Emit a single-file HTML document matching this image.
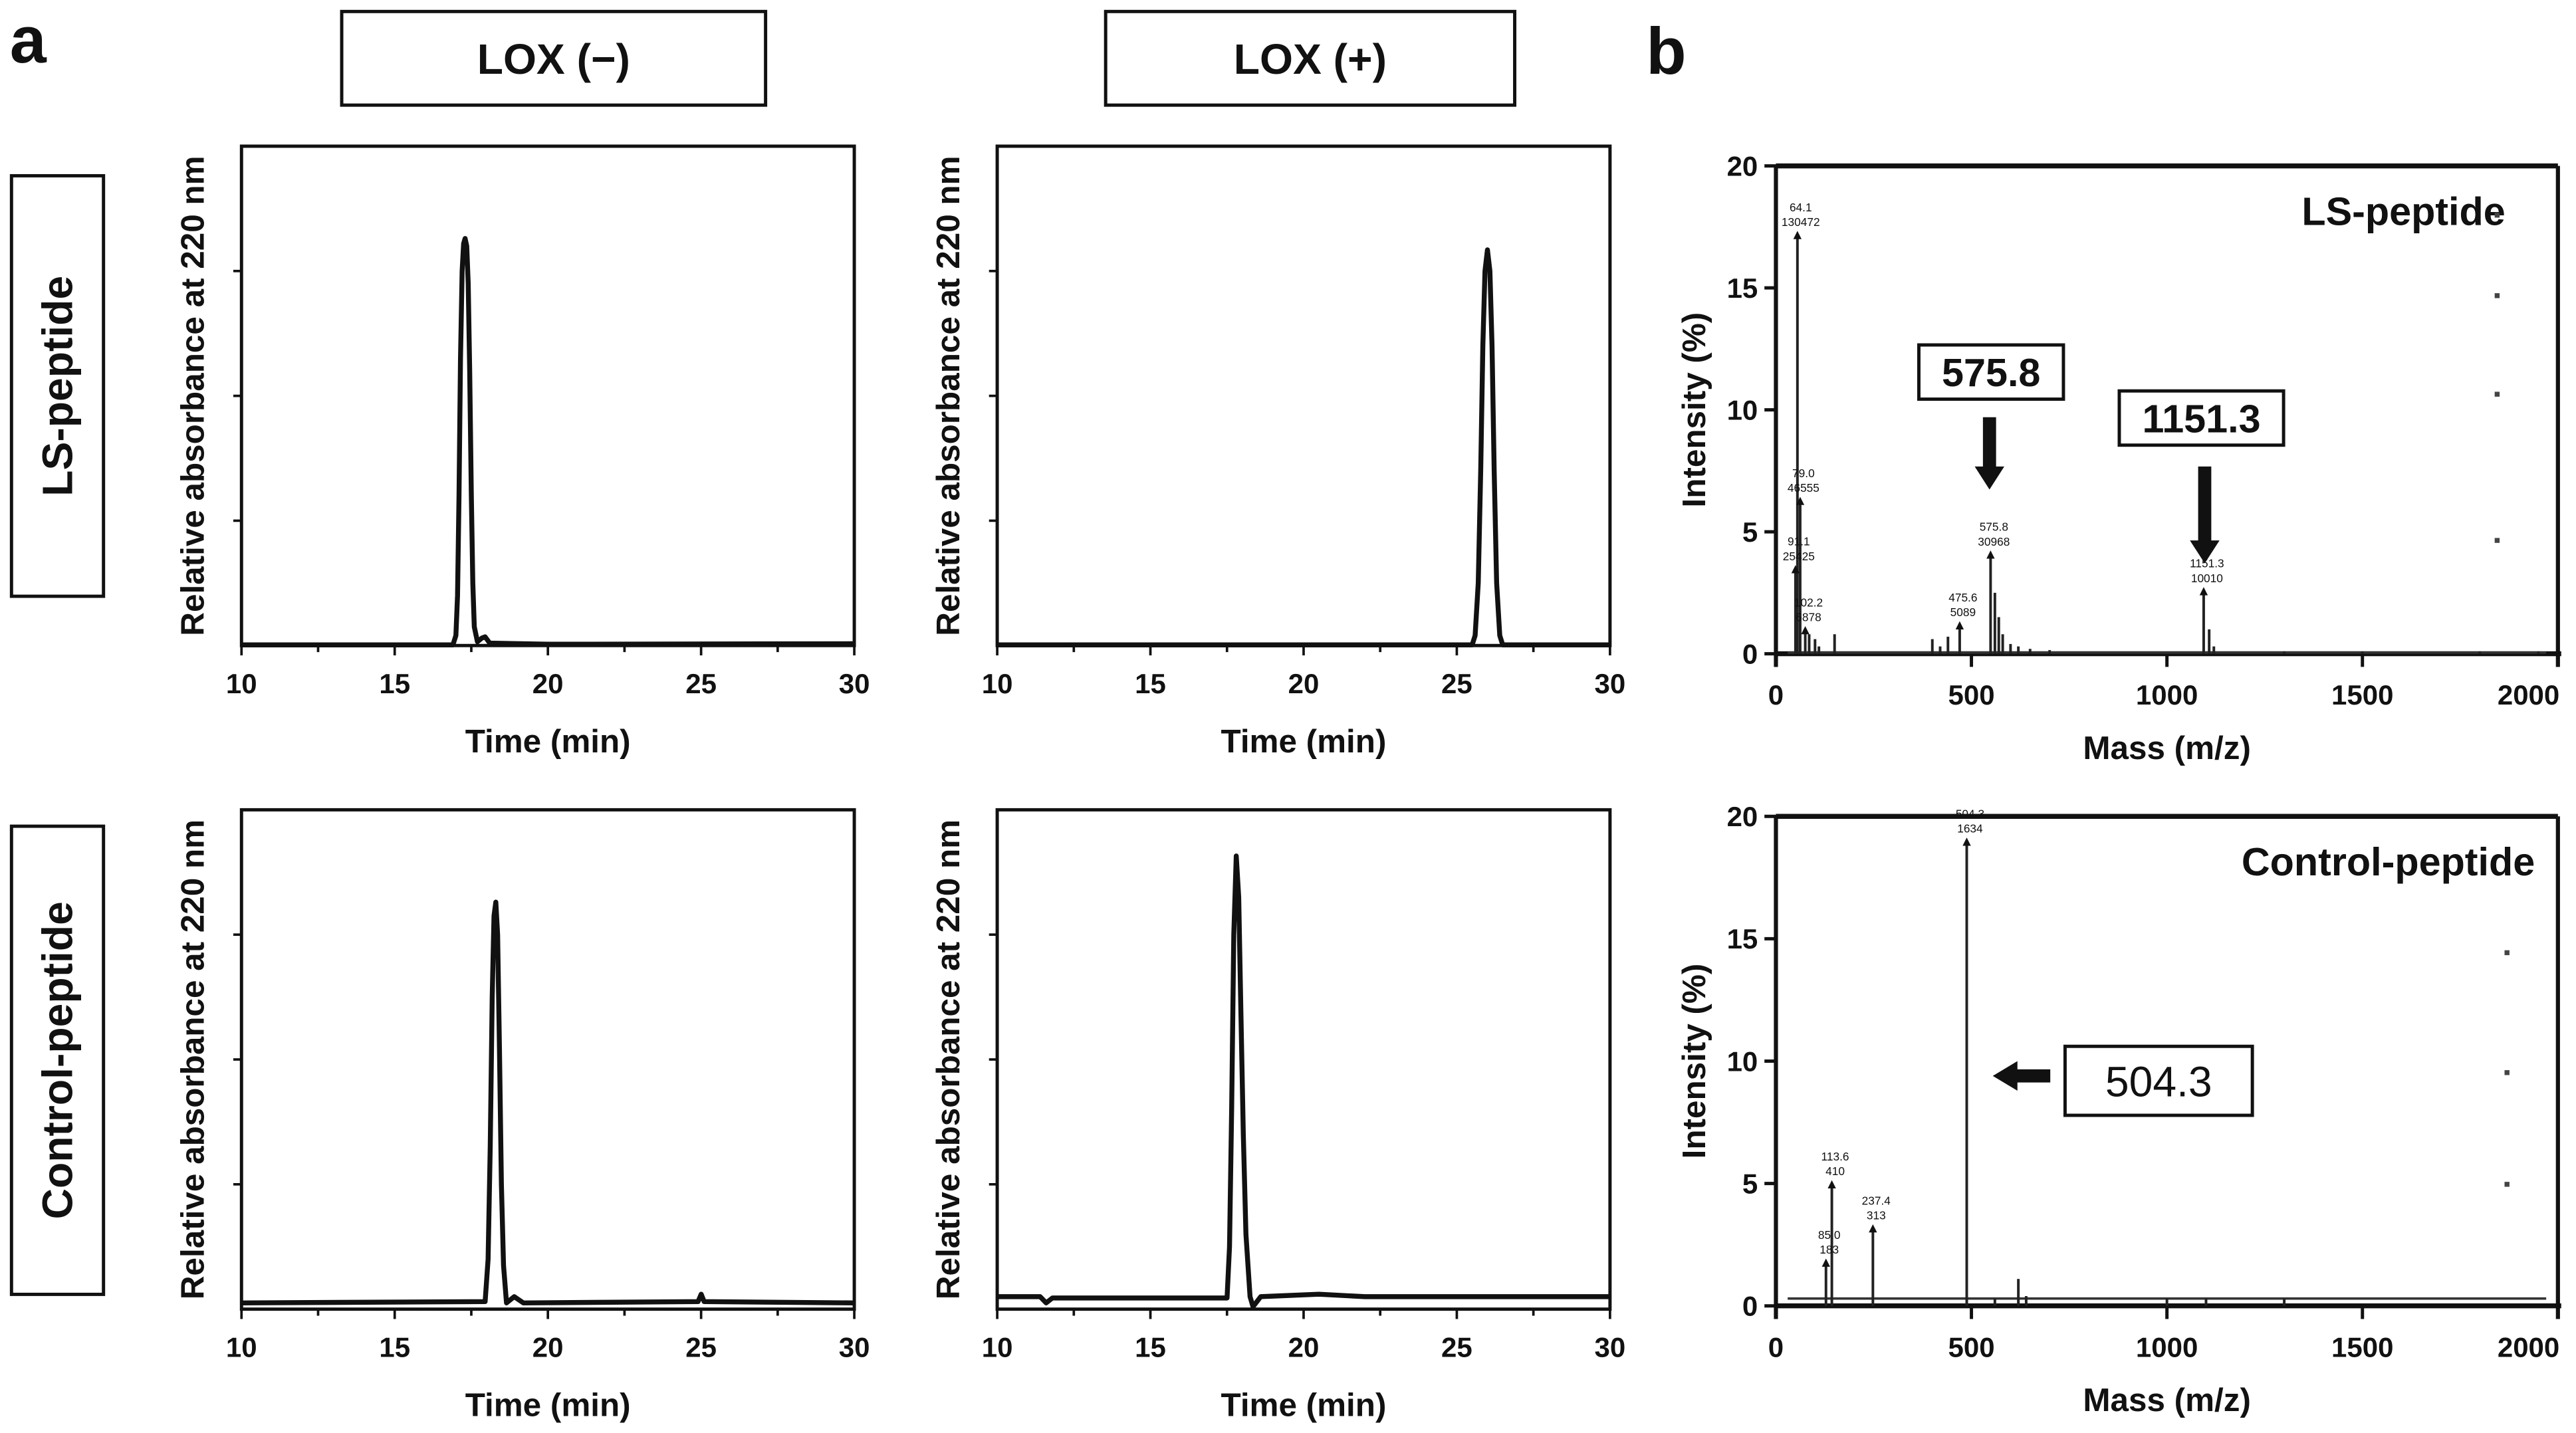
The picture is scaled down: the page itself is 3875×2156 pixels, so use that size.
<!DOCTYPE html>
<html><head><meta charset="utf-8"><style>
html,body{margin:0;padding:0;background:#fff;}
svg{display:block;}
text{font-family:"Liberation Sans",Arial,sans-serif;fill:#111;}
</style></head><body>
<svg id="fig" width="3875" height="2156" viewBox="0 0 1568 872.4" preserveAspectRatio="none" xmlns="http://www.w3.org/2000/svg">
<g id="root"></g>
</svg>
<script>
// ---------- data ----------
// Chromatograms: [time (min), relative absorbance (0-4 scale)]
const lsLoxMinus = [[10,0.005],[16.9,0.005],[17.0,0.08],[17.05,0.4],[17.1,1.2],[17.15,2.3],[17.2,3.0],[17.25,3.22],[17.3,3.26],[17.35,3.2],[17.4,2.9],[17.45,2.2],[17.5,1.2],[17.55,0.5],[17.6,0.15],[17.7,0.03],[17.85,0.06],[17.95,0.07],[18.1,0.02],[20,0.01],[30,0.015]];
const lsLoxPlus = [[10,0.005],[25.5,0.005],[25.6,0.08],[25.7,0.5],[25.78,1.4],[25.85,2.4],[25.92,3.0],[26.0,3.17],[26.08,3.0],[26.15,2.4],[26.22,1.4],[26.3,0.5],[26.4,0.08],[26.5,0.005],[30,0.005]];
const ctlLoxMinus = [[10,0.05],[17.95,0.06],[18.05,0.4],[18.12,1.3],[18.18,2.5],[18.24,3.15],[18.3,3.26],[18.36,3.0],[18.42,2.1],[18.48,1.0],[18.55,0.35],[18.65,0.05],[18.9,0.1],[19.2,0.05],[24.9,0.06],[25.0,0.12],[25.1,0.06],[30,0.05]];
const ctlLoxPlus = [[10,0.1],[11.4,0.1],[11.6,0.05],[11.8,0.09],[17.5,0.09],[17.58,0.5],[17.65,1.6],[17.72,3.0],[17.8,3.63],[17.88,3.3],[17.95,2.4],[18.03,1.4],[18.12,0.6],[18.25,0.1],[18.35,0.02],[18.6,0.1],[20.5,0.12],[22,0.1],[30,0.1]];
const timeTicks = [10,15,20,25,30];
// Mass spectra sticks: [m/z position, intensity %]
const lsMassPeaks = [[55,17.2],[62,6.3],[50,3.5],[75,1.0],[85,0.8],[100,0.6],[110,0.3],[150,0.8],[400,0.6],[420,0.3],[440,0.7],[470,1.2],[549,4.1],[560,2.5],[570,1.5],[580,0.8],[600,0.4],[620,0.3],[650,0.2],[700,0.15],[1094,2.6],[1108,1.0],[1120,0.3],[1300,0.1],[1500,0.1],[1800,0.1],[1950,0.1]];
const lsMassLabels = [[55,17.2,"64.1","130472"],[62,6.3,"79.0","46555"],[50,3.5,"91.1","25425"],[75,1.0,"102.2","6878"],[470,1.2,"475.6","5089"],[549,4.1,"575.8","30968"],[1094,2.6,"1151.3","10010"]];
const ctlMassPeaks = [[128,1.8],[143,5.0],[248,3.2],[488,19.0],[560,0.3],[620,1.1],[640,0.4],[1000,0.3],[1100,0.3],[1300,0.3]];
const ctlMassLabels = [[128,1.8,"85.0","183"],[143,5.0,"113.6","410"],[248,3.2,"237.4","313"],[488,19.0,"504.3","1634"]];
const massTicks = [0,500,1000,1500,2000];
const intensityTicks = [0,5,10,15,20];

// ---------- helpers ----------
const NS="http://www.w3.org/2000/svg";
const root=document.getElementById('root');
function el(tag,attrs,parent,txt){const e=document.createElementNS(NS,tag);for(const k in attrs)e.setAttribute(k,attrs[k]);if(txt!==undefined)e.textContent=txt;(parent||root).appendChild(e);return e;}
function scale(d0,d1,r0,r1){return v=>r0+(v-d0)/(d1-d0)*(r1-r0);}

// ---------- chromatograms ----------
function chrom(x0,x1,y0,y1,data,name){
  const g=el('g',{});
  
  
  const sx=scale(10,30,x0,x1), sy=scale(0,4,y1,y0);
  const box=el('rect',{x:x0,y:y0,width:x1-x0,height:y1-y0,fill:'none',stroke:'#111','stroke-width':2},g);
  
  
  for(let v=1;v<=3;v++){el('line',{x1:x0-5,x2:x0,y1:sy(v),y2:sy(v),stroke:'#111','stroke-width':1.5},g);}
  for(let t=10;t<=30;t+=2.5){el('line',{x1:sx(t),x2:sx(t),y1:y1,y2:y1+(t%5===0?6:4),stroke:'#111','stroke-width':1.5},g);}
  timeTicks.forEach(t=>{const tx=el('text',{x:sx(t),y:y1+29,'text-anchor':'middle','font-size':17,'font-weight':'bold'},g,String(t));
    
    });
  const xt=el('text',{x:(x0+x1)/2,y:y1+65,'text-anchor':'middle','font-size':20,'font-weight':'bold'},g,'Time (min)');
  
  
  const yt=el('text',{transform:`translate(${x0-23},${(y0+y1)/2}) rotate(-90)`,'text-anchor':'middle','font-size':20,'font-weight':'bold'},g,'Relative absorbance at 220 nm');
  
  
  const p=el('path',{d:data.map((d,i)=>(i?'L':'M')+sx(d[0]).toFixed(1)+' '+sy(d[1]).toFixed(1)).join(' '),fill:'none',stroke:'#111','stroke-width':3,'stroke-linejoin':'round'},g);
  
  
}
chrom(147,520,89,393,lsLoxMinus,'chromatogram-ls-lox-minus');
chrom(607,980,89,393,lsLoxPlus,'chromatogram-ls-lox-plus');
chrom(147,520,493,797,ctlLoxMinus,'chromatogram-control-lox-minus');
chrom(607,980,493,797,ctlLoxPlus,'chromatogram-control-lox-plus');

// ---------- mass spectra ----------
function spectrum(x0,x1,y0,y1,peaks,labels,title,titleX,name,baseline){
  const g=el('g',{});
  
  
  const sx=scale(0,2000,x0,x1), sy=scale(0,20,y1,y0);
  el('line',{x1:x0,x2:x1,y1:y0,y2:y0,stroke:'#111','stroke-width':3},g);
  el('line',{x1:x0,x2:x1+2,y1:y1,y2:y1,stroke:'#111','stroke-width':3},g);
  el('line',{x1:x0,x2:x0,y1:y0,y2:y1+8,stroke:'#111','stroke-width':2.5},g);
  el('line',{x1:x1,x2:x1,y1:y0,y2:y1+8,stroke:'#111','stroke-width':2.5},g);
  intensityTicks.forEach(v=>{el('line',{x1:x0-7,x2:x0,y1:sy(v),y2:sy(v),stroke:'#111','stroke-width':2},g);
    const t=el('text',{x:x0-11,y:sy(v)+6,'text-anchor':'end','font-size':17,'font-weight':'bold'},g,String(v));
    
    });
  massTicks.forEach((v,i)=>{el('line',{x1:sx(v),x2:sx(v),y1:y1,y2:y1+8,stroke:'#111','stroke-width':2},g);
    const last=i===massTicks.length-1;
    const t=el('text',{x:last?sx(v)+1:sx(v),y:y1+31,'text-anchor':last?'end':'middle','font-size':17,'font-weight':'bold'},g,String(v));
    
    });
  const xt=el('text',{x:(x0+x1)/2,y:y1+64,'text-anchor':'middle','font-size':20,'font-weight':'bold'},g,'Mass (m/z)');
  
  
  const yt=el('text',{transform:`translate(${x0-43},${(y0+y1)/2}) rotate(-90)`,'text-anchor':'middle','font-size':20,'font-weight':'bold'},g,'Intensity  (%)');
  
  
  if(baseline){const b=el('line',{x1:sx(30),x2:sx(1970),y1:sy(baseline),y2:sy(baseline),stroke:'#333','stroke-width':1.5},g);
    
    }
  peaks.forEach(p=>{const l=el('line',{x1:sx(p[0]),x2:sx(p[0]),y1:y1,y2:sy(p[1]),stroke:'#222','stroke-width':1.6},g);
    
    });
  labels.forEach(p=>{const x=sx(p[0]),y=sy(p[1]);
    el('path',{d:`M${x-2.5} ${y+3} L${x} ${y-2} L${x+2.5} ${y+3}Z`,fill:'#111'},g);
    el('text',{x:x+2,y:y-14,'text-anchor':'middle','font-size':7},g,p[2]);
    el('text',{x:x+2,y:y-5,'text-anchor':'middle','font-size':7},g,p[3]);});
  const tt=el('text',{x:titleX,y:y0+36,'text-anchor':'end','font-size':24,'font-weight':'bold'},g,title);
  
  
  return {sx,sy,g};
}
const s1=spectrum(1081,1557,101,398,lsMassPeaks,lsMassLabels,'LS-peptide',1525,'mass-spectrum-ls',0.05);
const s2=spectrum(1081,1557,497,795,ctlMassPeaks,ctlMassLabels,'Control-peptide',1543,'mass-spectrum-control',0.3);
// dots at right edge
[[1520,131],[1520,180],[1520,240],[1520,329],[1526,580],[1526,653],[1526,721]].forEach(d=>el('rect',{x:d[0]-1.5,y:d[1]-1.5,width:3,height:3,fill:'#444'}));

// annotation boxes & arrows
function box(x,y,w,h,txt,fs,name,bold){
  const g=el('g',{});
  
  
  el('rect',{x:x,y:y,width:w,height:h,fill:'#fff',stroke:'#111','stroke-width':2},g);
  el('text',{x:x+w/2,y:y+h/2+fs*0.36,'text-anchor':'middle','font-size':fs,'font-weight':bold?'bold':'normal'},g,txt);
}
box(1168,210,88,33,'575.8',24,'annotation-575-8',true);
box(1290,238,100,33,'1151.3',24,'annotation-1151-3',true);
box(1257,637,114,42,'504.3',26,'annotation-504-3',false);
function arrowDown(x,y0,y1){el('rect',{x:x-4,y:y0,width:8,height:y1-y0-12,fill:'#111'});el('path',{d:`M${x-9} ${y1-14} L${x+9} ${y1-14} L${x} ${y1}Z`,fill:'#111'});}
arrowDown(1211,254,298);
arrowDown(1342,284,343);
el('rect',{x:1226,y:651,width:22,height:8,fill:'#111'});
el('path',{d:'M1228 646 L1228 664 L1213 655Z',fill:'#111'});

// header boxes
box(208,7,258,57,'LOX (−)',26,'header-lox-minus',true);
box(673,7,249,57,'LOX (+)',26,'header-lox-plus',true);
function rowBox(y0,y1,txt,name){
  const g=el('g',{});
  
  
  el('rect',{x:7,y:y0,width:56,height:y1-y0,fill:'#fff',stroke:'#111','stroke-width':2},g);
  el('text',{transform:`translate(44,${(y0+y1)/2}) rotate(-90)`,'text-anchor':'middle','font-size':26,'font-weight':'bold'},g,txt);
}
rowBox(107,363,'LS-peptide','row-label-ls-peptide');
rowBox(503,788,'Control-peptide','row-label-control-peptide');
const pa=el('text',{x:6,y:38,'font-size':40,'font-weight':'bold'},root,'a');


const pb=el('text',{x:1002,y:45,'font-size':40,'font-weight':'bold'},root,'b');


</script>
</body></html>
